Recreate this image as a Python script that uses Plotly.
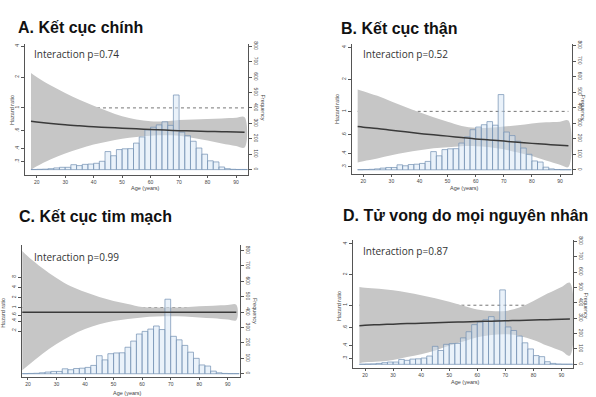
import plotly.graph_objects as go

W, H = 596, 397

# ---------------- data ----------------
titles = ["A. Kết cục chính", "B. Kết cục thận", "C. Kết cục tim mạch", "D. Tử vong do mọi nguyên nhân"]
interaction = ["Interaction p=0.74", "Interaction p=0.52", "Interaction p=0.99", "Interaction p=0.87"]

# age distribution (2-year bins, start age of each bin)
bin_start = [18, 20, 22, 24, 26, 28, 30, 32, 34, 36, 38, 40, 42, 44, 46, 48, 50, 52, 54,
             56, 58, 60, 62, 64, 66, 68, 70, 72, 74, 76, 78, 80, 82, 84, 86, 88, 90, 92]
freq = [1, 2, 3, 6, 11, 15, 15, 32, 26, 34, 36, 41, 54, 117, 90, 130, 135, 136, 172,
        212, 258, 275, 290, 310, 287, 484, 243, 220, 184, 140, 100, 57, 50, 17, 6, 2, 1, 1]

ages = [18, 20, 25, 30, 35, 40, 45, 50, 55, 60, 65, 70, 75, 80, 85, 90, 93]

a_upper = [2.19, 2.0, 1.65, 1.40, 1.20, 1.05, 0.93, 0.83, 0.77, 0.74, 0.74, 0.76, 0.77, 0.78, 0.79, 0.80, 0.81]
a_hr    = [0.74, 0.73, 0.705, 0.684, 0.668, 0.654, 0.644, 0.635, 0.625, 0.616, 0.608, 0.60, 0.595, 0.59, 0.586, 0.582, 0.58]
a_lower = [0.25, 0.27, 0.316, 0.36, 0.40, 0.44, 0.47, 0.50, 0.52, 0.535, 0.54, 0.535, 0.51, 0.48, 0.45, 0.425, 0.41]

b_upper = [1.61, 1.55, 1.40, 1.24, 1.10, 0.98, 0.88, 0.80, 0.73, 0.70, 0.70, 0.72, 0.74, 0.77, 0.79, 0.80, 0.82]
b_hr    = [0.72, 0.71, 0.69, 0.665, 0.642, 0.62, 0.602, 0.585, 0.568, 0.55, 0.538, 0.525, 0.512, 0.50, 0.49, 0.48, 0.474]
b_lower = [0.33, 0.34, 0.36, 0.386, 0.41, 0.43, 0.45, 0.46, 0.47, 0.47, 0.46, 0.44, 0.41, 0.38, 0.345, 0.315, 0.30]

c_upper = [48.5, 33.0, 15.0, 7.6, 4.3, 2.9, 2.06, 1.57, 1.28, 1.04, 1.0, 1.0, 1.02, 1.09, 1.14, 1.19, 1.22]
c_hr    = [0.73, 0.73, 0.73, 0.73, 0.73, 0.73, 0.73, 0.73, 0.73, 0.73, 0.73, 0.73, 0.73, 0.73, 0.73, 0.73, 0.73]
c_lower = [0.0137, 0.019, 0.042, 0.083, 0.147, 0.23, 0.32, 0.40, 0.46, 0.51, 0.54, 0.55, 0.54, 0.51, 0.48, 0.44, 0.42]

d_upper = [1.51, 1.48, 1.45, 1.40, 1.33, 1.25, 1.17, 1.08, 0.99, 0.91, 0.88, 0.88, 0.95, 1.10, 1.30, 1.51, 1.66]
d_hr    = [0.63, 0.635, 0.645, 0.652, 0.66, 0.665, 0.672, 0.68, 0.686, 0.692, 0.698, 0.704, 0.71, 0.716, 0.722, 0.728, 0.732]
d_lower = [0.27, 0.275, 0.28, 0.29, 0.31, 0.33, 0.36, 0.40, 0.44, 0.485, 0.51, 0.52, 0.50, 0.457, 0.40, 0.355, 0.32]

hr_ticks = [0.3, 0.4, 0.6, 1, 2, 4]
hr_labels = [".3", ".4", ".6", "1", "2", "4"]
hr_ticks_c = [0.2, 0.4, 0.6, 1, 2, 4, 8]
hr_labels_c = [".2", ".4", ".6", "1", "2", "4", "8"]
age_ticks = [20, 30, 40, 50, 60, 70, 80, 90]
freq_ticks = [0, 100, 200, 300, 400, 500, 600, 700, 800]

# ---------------- layout geometry (pixels) ----------------
uppers = [a_upper, b_upper, c_upper, d_upper]
hrs = [a_hr, b_hr, c_hr, d_hr]
lowers = [a_lower, b_lower, c_lower, d_lower]
tickv = [hr_ticks, hr_ticks, hr_ticks_c, hr_ticks]
tickt = [hr_labels, hr_labels, hr_labels_c, hr_labels]
boxes = [(25, 248, 40, 172.5), (352.3, 572, 40, 171.7), (21.7, 240, 243.3, 376.5), (353.3, 573.3, 238.3, 367.5)]
xranges = [(15.9, 94.2), (16.09, 94.27), (17.8, 94.3), (15.83, 94.2)]
hranges = [(-0.652, 0.627), (-0.589, 0.638), (-2.053, 1.865), (-0.614, 0.641)]
franges = [(-33.4, 817.3), (-26.8, 812), (-19.3, 837), (-22.5, 809)]
title_pos = [(17.3, 24.2), (340, 25), (18.3, 214.2), (341.7, 213.3)]
inter_pos = [(33.3, 50.8), (361.7, 50.8), (33.3, 255.8), (361.7, 250)]
hz_pos = [(12, 107), (337, 106), (3, 312), (339, 305)]
fq_pos = [(263.5, 104), (583.5, 104), (255, 310), (586.5, 304)]
age_pos = [(145.8, 186), (464, 185.5), (127.5, 392.5), (465, 381.5)]


def px(x):
    return x / W


def py(y):
    return 1 - y / H


fig = go.Figure()
layout = dict(width=W, height=H, margin=dict(l=0, r=0, t=0, b=0), autosize=False,
              paper_bgcolor="white", plot_bgcolor="rgba(0,0,0,0)", showlegend=False,
              font=dict(family="Liberation Sans, Arial, sans-serif", color="#333"))
annotations = []

axis_col = "#555555"
tick_font = dict(size=5, color="#444", family="Liberation Sans, Arial, sans-serif")

for i in range(4):
    xid = f"x{i + 1}" if i > 0 else "x"
    n1, n2, n3 = 3 * i + 1, 3 * i + 2, 3 * i + 3
    y1 = "y" if n1 == 1 else f"y{n1}"
    y2, y3 = f"y{n2}", f"y{n3}"
    l, r, t, b = boxes[i]
    xkey = "xaxis" if i == 0 else f"xaxis{i + 1}"
    k1 = "yaxis" if n1 == 1 else f"yaxis{n1}"
    k2, k3 = f"yaxis{n2}", f"yaxis{n3}"

    layout[xkey] = dict(domain=[px(l), px(r)], range=list(xranges[i]), anchor=y1,
                        tickvals=age_ticks, ticks="outside", ticklen=2.5, tickwidth=0.8,
                        tickcolor=axis_col, showline=True, linecolor=axis_col, linewidth=1,
                        showgrid=False, zeroline=False, tickfont=tick_font)
    layout[k1] = dict(domain=[py(b), py(t)], type="log", range=list(hranges[i]), anchor=xid,
                      tickvals=tickv[i], ticktext=tickt[i], tickangle=-90, ticks="outside",
                      ticklen=3, tickwidth=0.8, tickcolor=axis_col, showline=True,
                      linecolor=axis_col, linewidth=1, showgrid=False, zeroline=False,
                      tickfont=tick_font)
    layout[k2] = dict(overlaying=y1, side="right", anchor=xid, range=list(franges[i]),
                      tickvals=freq_ticks, tickangle=90, ticks="outside", ticklen=3,
                      tickwidth=0.8, tickcolor=axis_col, showline=True, linecolor=axis_col,
                      linewidth=1, showgrid=False, zeroline=False, tickfont=tick_font)
    layout[k3] = dict(overlaying=y1, anchor=xid, type="log", range=list(hranges[i]),
                      visible=False, showgrid=False, zeroline=False)

    # reference line HR = 1 (below the band)
    fig.add_trace(go.Scatter(x=[ages[0], ages[-1]], y=[1, 1], mode="lines", xaxis=xid, yaxis=y1,
                             line=dict(color="#666", width=0.9, dash="dot"), hoverinfo="skip"))
    # confidence band
    fig.add_trace(go.Scatter(x=ages + ages[::-1], y=uppers[i] + lowers[i][::-1], mode="lines",
                             fill="toself", fillcolor="#c6c6c6", xaxis=xid, yaxis=y1,
                             line=dict(width=0, shape="spline", smoothing=1.0), hoverinfo="skip"))
    # histogram
    fig.add_trace(go.Bar(x=[s + 1 for s in bin_start], y=freq, width=2, xaxis=xid, yaxis=y2,
                         marker=dict(color="rgba(214,230,246,0.5)",
                                     line=dict(color="rgba(115,145,178,0.9)", width=0.8)),
                         hoverinfo="skip"))
    # hazard ratio line
    fig.add_trace(go.Scatter(x=ages, y=hrs[i], mode="lines", xaxis=xid, yaxis=y3,
                             line=dict(color="#3a3a3a", width=1.5, shape="spline"),
                             hoverinfo="skip"))

    annotations.append(dict(text=f"<b>{titles[i]}</b>", x=px(title_pos[i][0]), y=py(title_pos[i][1]),
                            xref="paper", yref="paper", xanchor="left", yanchor="middle",
                            showarrow=False, borderpad=0,
                            font=dict(family="Liberation Sans, Arial, sans-serif", size=16, color="#111")))
    annotations.append(dict(text=interaction[i], x=px(inter_pos[i][0]), y=py(inter_pos[i][1]),
                            xref="paper", yref="paper", xanchor="left", yanchor="middle",
                            showarrow=False, borderpad=0,
                            font=dict(family="Open Sans, sans-serif", size=10, color="#333")))
    annotations.append(dict(text="Hazard ratio", x=px(hz_pos[i][0]), y=py(hz_pos[i][1]),
                            xref="paper", yref="paper", xanchor="center", yanchor="middle",
                            textangle=-90, showarrow=False, borderpad=0,
                            font=dict(size=5.5, color="#444")))
    annotations.append(dict(text="Frequency", x=px(fq_pos[i][0]), y=py(fq_pos[i][1]),
                            xref="paper", yref="paper", xanchor="center", yanchor="middle",
                            textangle=90, showarrow=False, borderpad=0,
                            font=dict(size=5.5, color="#444")))
    annotations.append(dict(text="Age (years)", x=px(age_pos[i][0]), y=py(age_pos[i][1]),
                            xref="paper", yref="paper", xanchor="center", yanchor="middle",
                            showarrow=False, borderpad=0,
                            font=dict(size=5.5, color="#444")))

layout["annotations"] = annotations
fig.update_layout(**layout)
fig.write_html("out.html", config={"displayModeBar": False},
               post_script="document.body.style.margin='0px';document.body.style.overflow='hidden';")
